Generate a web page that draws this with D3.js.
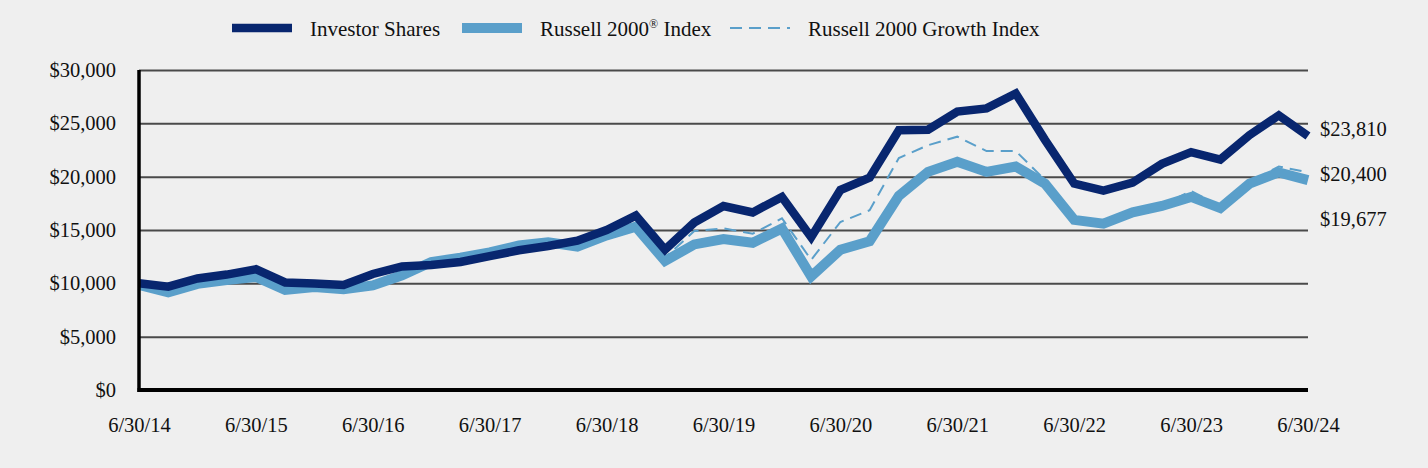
<!DOCTYPE html>
<html>
<head>
<meta charset="utf-8">
<script src="https://cdn.jsdelivr.net/npm/d3@7/dist/d3.min.js"></script>
<style>
  html, body { margin: 0; padding: 0; background: #efefef; }
  svg { display: block; }
  text { font-family: "Liberation Serif", "Times New Roman", serif; fill: #111; }
</style>
</head>
<body>
<svg id="chart" width="1428" height="468"></svg>
<script>
const dates = ["6/30/14","9/30/14","12/31/14","3/31/15","6/30/15","9/30/15","12/31/15","3/31/16",
  "6/30/16","9/30/16","12/31/16","3/31/17","6/30/17","9/30/17","12/31/17","3/31/18",
  "6/30/18","9/30/18","12/31/18","3/31/19","6/30/19","9/30/19","12/31/19","3/31/20",
  "6/30/20","9/30/20","12/31/20","3/31/21","6/30/21","9/30/21","12/31/21","3/31/22",
  "6/30/22","9/30/22","12/31/22","3/31/23","6/30/23","9/30/23","12/31/23","3/31/24","6/30/24"];

const investorShares = [10000,9690,10460,10820,11320,10080,9980,9850,
  10880,11580,11720,12000,12550,13100,13500,14000,
  15000,16350,13150,15700,17250,16650,18100,14330,
  18750,19900,24350,24400,26100,26400,27800,23450,
  19350,18700,19450,21200,22300,21600,23900,25750,23810];

const russell2000 = [9850,9150,9950,10300,10600,9380,9650,9450,
  9800,10750,12000,12400,12900,13550,13850,13450,
  14500,15300,12100,13650,14150,13800,15150,10650,
  13150,13950,18200,20450,21400,20450,20950,19350,
  15950,15600,16650,17250,18100,17050,19350,20400,19677];

const russell2000Growth = [9900,9250,10050,10450,10850,9500,9750,9500,
  9750,10700,11900,12300,12850,13500,13950,13700,
  14800,15500,12400,14900,15150,14650,16100,12200,
  15750,16850,21750,22950,23750,22400,22400,19700,
  16100,15750,16750,17350,18650,17250,19500,20950,20400];

const xTickLabels = ["6/30/14","6/30/15","6/30/16","6/30/17","6/30/18","6/30/19",
  "6/30/20","6/30/21","6/30/22","6/30/23","6/30/24"];
const yTicks = [0,5000,10000,15000,20000,25000,30000];
const endLabels = ["$23,810","$20,400","$19,677"];

const svg = d3.select("#chart");
const pLeft = 139, pRight = 1308, pTop = 70, pBottom = 390;

const x = d3.scalePoint().domain(dates).range([pLeft, pRight]);
const y = d3.scaleLinear().domain([0, 30000]).range([pBottom, pTop]);

// grid via y axis
const yAxis = d3.axisLeft(y).tickValues(yTicks).tickSize(-(pRight - pLeft)).tickPadding(23)
  .tickFormat(d => "$" + d3.format(",")(d));
const gy = svg.append("g").attr("transform", `translate(${pLeft},0)`).call(yAxis);
gy.select(".domain").remove();
gy.selectAll(".tick line").attr("stroke", "#4a4a4a").attr("stroke-width", 2);
gy.selectAll(".tick text").style("font-size", "20.5px").attr("fill", "#111")
  .style("font-family", '"Liberation Serif", serif');

// x axis labels
const xAxis = d3.axisBottom(x).tickValues(xTickLabels).tickSize(0).tickPadding(27);
const gx = svg.append("g").attr("transform", `translate(0,${pBottom})`).call(xAxis);
gx.select(".domain").remove();
gx.selectAll(".tick text").style("font-size", "20.5px").attr("fill", "#111")
  .style("font-family", '"Liberation Serif", serif');

const line = (vals) => d3.line().x((d, i) => x(dates[i])).y(d => y(d))(vals);

svg.append("path").attr("d", line(russell2000)).attr("fill", "none")
  .attr("stroke", "#5a9fca").attr("stroke-width", 10).attr("stroke-linejoin", "miter");
svg.append("path").attr("d", line(russell2000Growth)).attr("fill", "none")
  .attr("stroke", "#5a9fca").attr("stroke-width", 2).attr("stroke-dasharray", "12,7");
svg.append("path").attr("d", line(investorShares)).attr("fill", "none")
  .attr("stroke", "#08266f").attr("stroke-width", 8.5).attr("stroke-linejoin", "miter");

// axes lines
svg.append("line").attr("x1", pLeft).attr("x2", pLeft).attr("y1", pTop).attr("y2", pBottom + 2)
  .attr("stroke", "#000").attr("stroke-width", 3.5);
svg.append("line").attr("x1", pLeft - 1.5).attr("x2", pRight).attr("y1", pBottom).attr("y2", pBottom)
  .attr("stroke", "#000").attr("stroke-width", 4);

// end labels
const gY = y(russell2000Growth[russell2000Growth.length - 1]);
const endY = [gY - 45, gY, gY + 45];
endLabels.forEach((t, i) => {
  svg.append("text").attr("x", pRight + 12).attr("y", endY[i] + 1.5).attr("dy", "0.35em")
    .style("font-size", "20.5px").text(t);
});

// legend
const legend = svg.append("g");
const legY = 28;
const items = [
  {x: 232, w: 60, color: "#08266f", sw: 8.5, dash: null, label: "Investor Shares", tx: 310},
  {x: 462, w: 60, color: "#5a9fca", sw: 10, dash: null, label: "Russell 2000", sup: "®", after: " Index", tx: 540},
  {x: 730, w: 60, color: "#5a9fca", sw: 2, dash: "12,7", label: "Russell 2000 Growth Index", tx: 808}
];
items.forEach(it => {
  const l = legend.append("line").attr("x1", it.x).attr("x2", it.x + it.w)
    .attr("y1", legY).attr("y2", legY).attr("stroke", it.color).attr("stroke-width", it.sw);
  if (it.dash) l.attr("stroke-dasharray", it.dash);
  const t = legend.append("text").attr("x", it.tx).attr("y", legY + 8).style("font-size", "21px");
  t.append("tspan").text(it.label);
  if (it.sup) {
    t.append("tspan").text(it.sup).attr("dy", -8).style("font-size", "12px");
    t.append("tspan").text(it.after).attr("dy", 8);
  }
});
</script>
</body>
</html>
